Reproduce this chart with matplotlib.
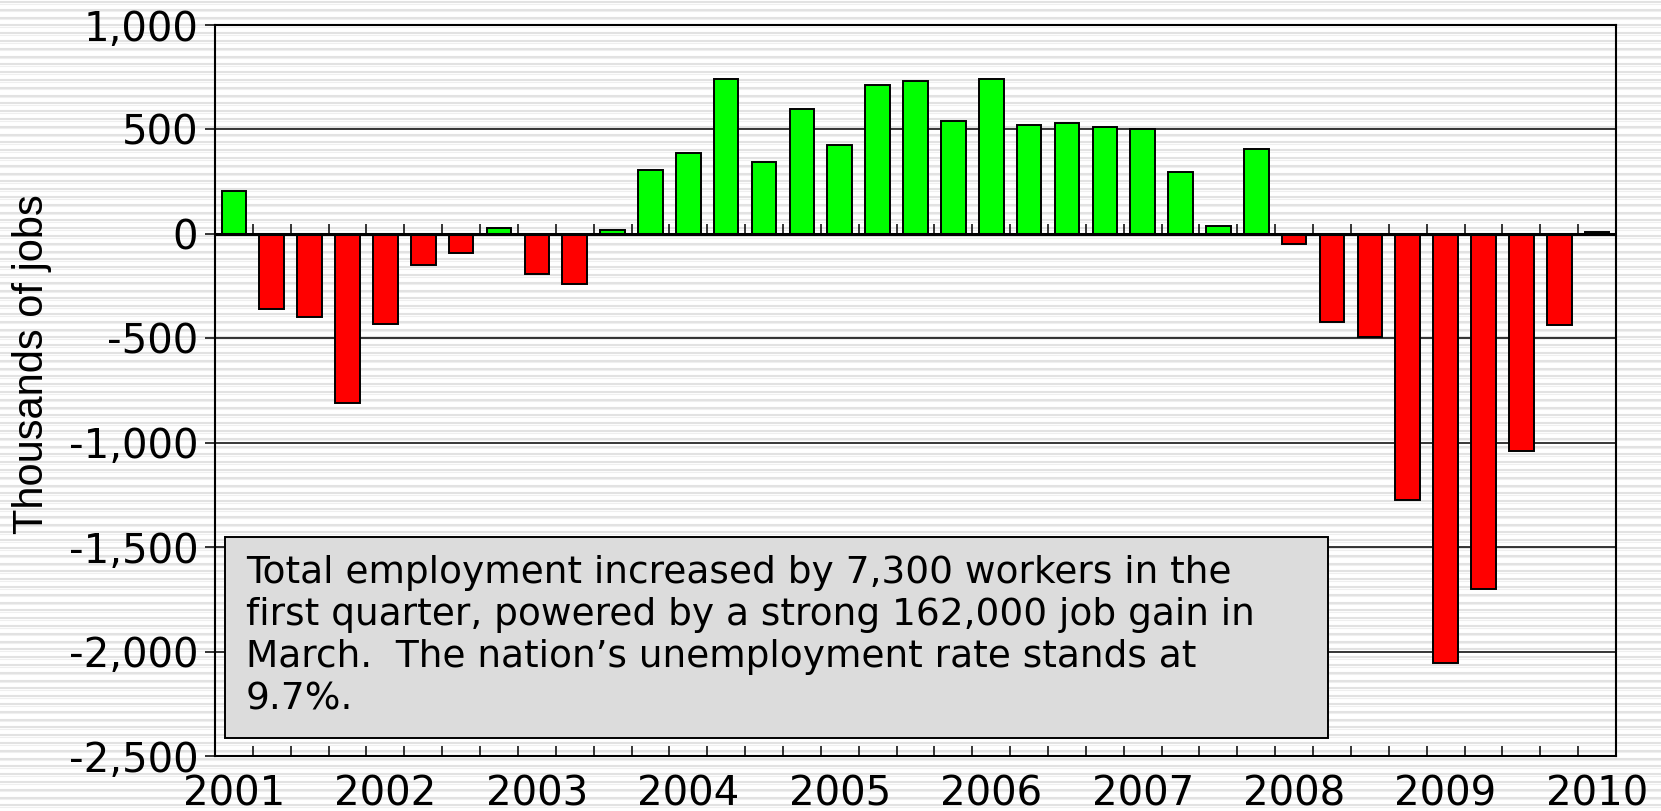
import matplotlib
matplotlib.use('Agg')
import matplotlib.pyplot as plt
from matplotlib.patches import Rectangle

# quarterly change in employment, thousands of jobs, 2001Q1 .. 2010Q1
years = ['2001', '2002', '2003', '2004', '2005', '2006', '2007', '2008', '2009', '2010']
changes = [
    205, -360, -400, -810,
    -430, -150, -90, 30,
    -190, -240, 20, 305,
    385, 740, 345, 600,
    425, 712, 733, 540,
    742, 520, 530, 510,
    500, 298, 40, 404,
    -50, -424, -495, -1275,
    -2055, -1700, -1040, -435,
    7,
]
note = ("Total employment increased by 7,300 workers in the\n"
        "first quarter, powered by a strong 162,000 job gain in\n"
        "March.  The nation\u2019s unemployment rate stands at\n"
        "9.7%.")

W, H = 1661, 811
fig = plt.figure(figsize=(W / 100, H / 100), dpi=100)

# striped background over the whole picture
bg = fig.add_axes([0, 0, 1, 1], zorder=-10)
bg.set_xlim(0, W)
bg.set_ylim(H, 0)
bg.axis('off')
y = 2.0
while y < H:
    bg.axhline(y, color='#e2e2e2', lw=1.5)
    bg.axhline(y + 1.6, color='#efefef', lw=0.8)
    y += 7.8

ax = fig.add_axes([215 / W, 1 - 756 / H, (1616 - 215) / W, (756 - 25) / H])
ax.patch.set_alpha(0)

x = list(range(len(changes)))
colors = ['#00ff00' if v >= 0 else '#ff0000' for v in changes]
ax.bar(x, changes, width=0.65, color=colors, edgecolor='black', linewidth=1.4, zorder=3)

ax.set_xlim(-0.5, len(changes) - 0.5)
ax.set_ylim(-2500, 1000)
ax.set_yticks(range(-2500, 1001, 500))
ax.set_yticklabels([f'{v:,}' for v in range(-2500, 1001, 500)])
for v in range(-2000, 1001, 500):
    if v != 0:
        ax.axhline(v, color='black', lw=1.1, zorder=1)
ax.axhline(0, color='black', lw=2.2, zorder=4)

ax.set_xticks(x[::4])
ax.set_xticklabels(years)
ax.set_xticks([i + 0.5 for i in x[:-1]], minor=True)
ax.tick_params(axis='x', which='major', length=0, pad=13, labelsize=29)
ax.tick_params(axis='x', which='minor', direction='in', length=7, width=1.1)
ax.tick_params(axis='y', length=7, width=1.1, pad=5, labelsize=29)
for s in ax.spines.values():
    s.set_linewidth(1.5)

# small ticks standing on the zero line
zax = ax.secondary_xaxis(0, transform=ax.transData)
zax.set_xticks([i + 0.5 for i in x[:-1]])
zax.tick_params(direction='in', length=7, width=1.1, labelbottom=False, labeltop=False)
zax.spines['bottom'].set_visible(False)

ax.add_patch(Rectangle((0.007, 0.0246), 0.7876, 0.275, transform=ax.transAxes,
                       facecolor='#dcdcdc', edgecolor='black', lw=1.4, zorder=6))
ax.text(0.0221, 0.275, note, transform=ax.transAxes, ha='left', va='top',
        fontsize=27, linespacing=1.22, zorder=7)

fig.text(0.019, 0.551, 'Thousands of jobs', rotation=90, ha='center', va='center',
         fontsize=30, family='Liberation Sans')

fig.savefig('out.png', dpi=100)
